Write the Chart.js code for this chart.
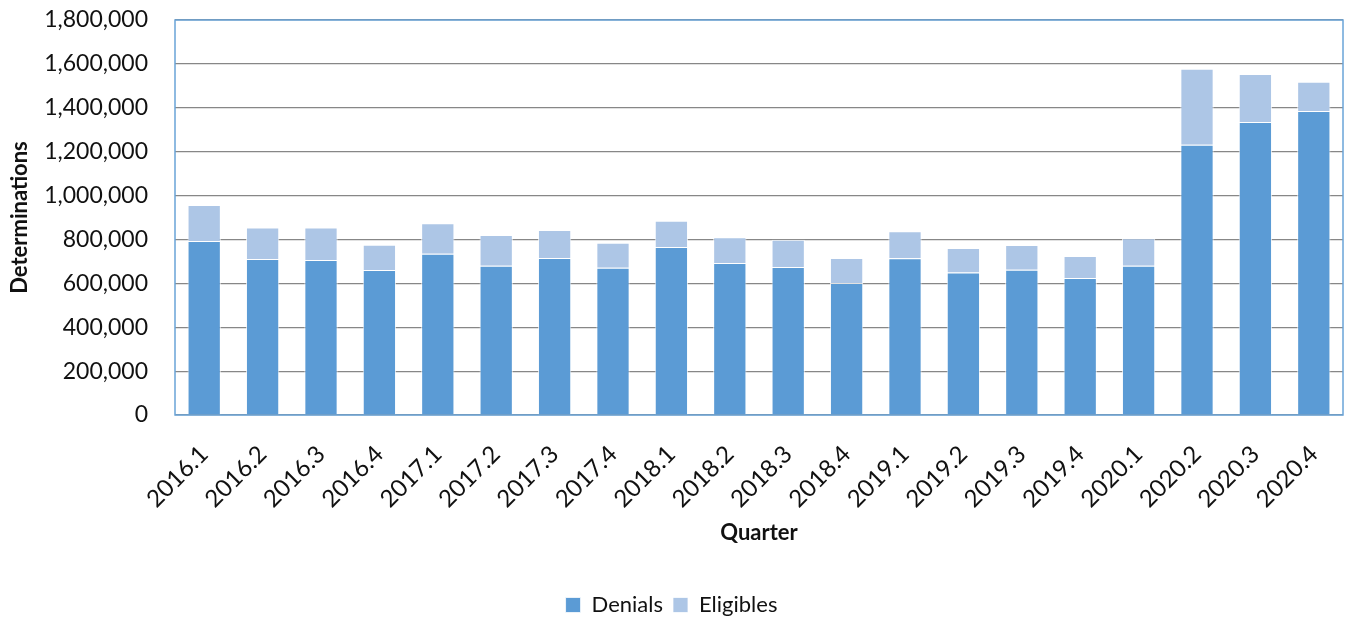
<!DOCTYPE html>
<html>
<head>
<meta charset="utf-8">
<script src="https://cdn.jsdelivr.net/npm/chart.js@4"></script>
<style>
  body { margin: 0; background: #fff; }
</style>
</head>
<body>
<canvas id="grafico" width="1346" height="618"></canvas>
<script>
const quarters = ["2016.1", "2016.2", "2016.3", "2016.4", "2017.1", "2017.2", "2017.3", "2017.4",
  "2018.1", "2018.2", "2018.3", "2018.4", "2019.1", "2019.2", "2019.3", "2019.4",
  "2020.1", "2020.2", "2020.3", "2020.4"];
const denials = [793000, 711000, 706000, 661000, 735000, 680000, 715000, 671000,
  766000, 693000, 674000, 602000, 714000, 649000, 662000, 624000,
  680000, 1232000, 1335000, 1385000];
const eligibles = [164000, 144000, 149000, 115000, 139000, 140000, 128000, 114000,
  119000, 117000, 125000, 113000, 123000, 112000, 113000, 101000,
  125000, 346000, 219000, 134000];

const fonte = "Lato, 'Open Sans', sans-serif";

// borda azul em volta da area do grafico
const bordaPlot = {
  id: "bordaPlot",
  afterDatasetsDraw(chart) {
    const { ctx, chartArea: a } = chart;
    ctx.save();
    ctx.strokeStyle = "#6aa4d8";
    ctx.lineWidth = 1.5;
    ctx.strokeRect(a.left, a.top, a.right - a.left, a.bottom - a.top);
    ctx.restore();
  },
};

new Chart(document.getElementById("grafico"), {
  type: "bar",
  data: {
    labels: quarters,
    datasets: [
      {
        label: "Denials",
        data: denials,
        backgroundColor: "#5B9BD5",
        borderColor: "rgba(255,255,255,0.75)",
        borderWidth: 1,
        categoryPercentage: 1,
        barPercentage: 0.57,
      },
      {
        label: "Eligibles",
        data: eligibles,
        backgroundColor: "#ADC6E6",
        borderColor: "rgba(255,255,255,0.75)",
        borderWidth: 1,
        categoryPercentage: 1,
        barPercentage: 0.57,
      },
    ],
  },
  options: {
    responsive: false,
    animation: false,
    layout: { padding: { top: 20, right: 3, left: 0, bottom: -8 } },
    plugins: {
      tooltip: { enabled: false },
      legend: {
        position: "bottom",
        labels: {
          color: "#111",
          font: { family: fonte, size: 22, lineHeight: 1 },
          boxWidth: 15,
          boxHeight: 15,
          padding: 10,
        },
      },
    },
    scales: {
      x: {
        stacked: true,
        grid: { display: false, drawTicks: false },
        border: { display: false },
        ticks: {
          color: "#111",
          font: { family: fonte, size: 24 },
          maxRotation: 45,
          minRotation: 45,
          padding: 25,
          autoSkip: false,
        },
        title: {
          display: true,
          text: "Quarter",
          color: "#111",
          font: { family: fonte, size: 22, weight: "bold" },
          padding: { top: 0, bottom: 38 },
        },
        afterFit: (scale) => {
          scale.height = 169;
          scale.paddingLeft = 0;
          scale.paddingRight = 0;
        },
      },
      y: {
        stacked: true,
        min: 0,
        max: 1800000,
        grid: { color: "#878787", lineWidth: 1.2, drawTicks: false },
        border: { display: false },
        ticks: {
          stepSize: 200000,
          color: "#111",
          font: { family: fonte, size: 23 },
          padding: 27,
          callback: (v) => v.toLocaleString("en-US"),
        },
        title: {
          display: true,
          text: "Determinations",
          color: "#111",
          font: { family: fonte, size: 22, weight: "bold" },
          padding: { top: 7, bottom: 0 },
        },
        afterFit: (scale) => {
          scale.width = 175;
          scale.paddingTop = 0;
          scale.paddingBottom = 0;
        },
      },
    },
  },
  plugins: [bordaPlot],
});
</script>
</body>
</html>
